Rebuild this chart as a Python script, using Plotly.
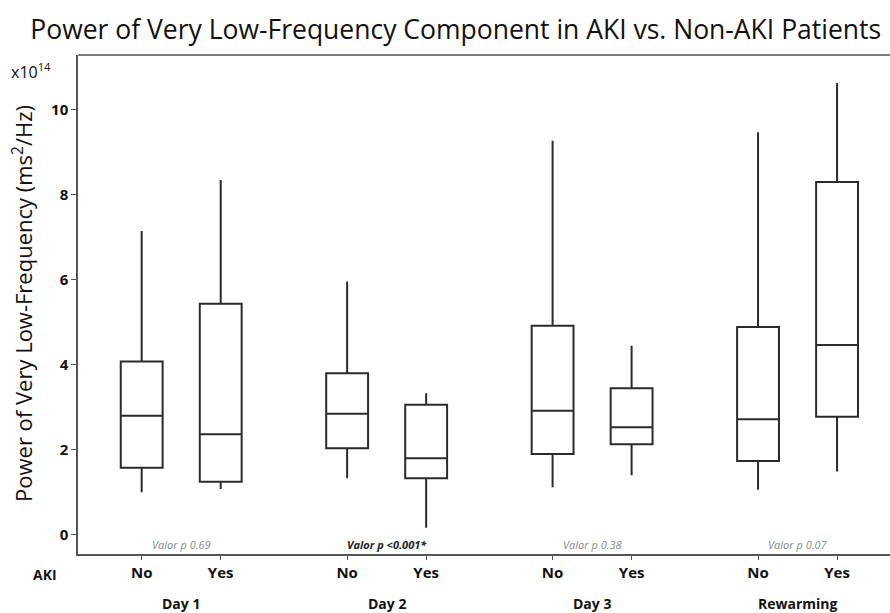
import plotly.graph_objects as go

groups = ["Day 1", "Day 2", "Day 3", "Rewarming"]
aki = ["No", "Yes"]
positions = [0, 1, 2.6, 3.6, 5.2, 6.2, 7.8, 8.8]
lower = [1.00, 1.08, 1.33, 0.17, 1.12, 1.40, 1.06, 1.49]
q1 = [1.58, 1.25, 2.04, 1.33, 1.90, 2.13, 1.74, 2.78]
median = [2.80, 2.37, 2.85, 1.80, 2.92, 2.53, 2.72, 4.47]
q3 = [4.08, 5.44, 3.80, 3.06, 4.92, 3.45, 4.89, 8.30]
upper = [7.15, 8.35, 5.96, 3.33, 9.27, 4.45, 9.47, 10.63]
pvalues = ["Valor p 0.69", "Valor p <0.001*", "Valor p 0.38", "Valor p 0.07"]
yticks = [0, 2, 4, 6, 8, 10]

FONT = "Open Sans"
dark = "#2b2b2b"

fig = go.Figure()
fig.add_trace(go.Box(
    x=positions, q1=q1, median=median, q3=q3,
    lowerfence=lower, upperfence=upper,
    width=0.53, whiskerwidth=0, boxpoints=False,
    fillcolor="white", line=dict(color=dark, width=2),
    showlegend=False, hoverinfo="skip",
))

tickvals = positions
ticktext = ["<b>" + a + "</b>" for a in aki] * len(groups)
yticktext = ["<b>" + str(v) + "</b>" for v in yticks]

annotations = []
for i, g in enumerate(groups):
    cx = (positions[2 * i] + positions[2 * i + 1]) / 2
    annotations.append(dict(
        x=cx, y=-0.100, xref="x", yref="paper", text="<b>" + g + "</b>",
        showarrow=False, font=dict(family=FONT, size=14, color="#111"),
        xanchor="center", yanchor="middle"))
    pv = pvalues[i]
    if "<" in pv:
        txt = "<b><i>" + pv.replace("<", "&lt;") + "</i></b>"
        col = "#222"
    else:
        txt = "<i>" + pv + "</i>"
        col = "#8a8a8a"
    annotations.append(dict(
        x=cx, y=0.02, xref="x", yref="paper", text=txt,
        showarrow=False, font=dict(family=FONT, size=11, color=col),
        xanchor="center", yanchor="middle"))

annotations.append(dict(
    x=-0.0406, y=-0.042, xref="paper", yref="paper", text="<b>AKI</b>",
    showarrow=False, font=dict(family=FONT, size=14, color="#111"),
    xanchor="center", yanchor="middle"))
annotations.append(dict(
    x=-0.085, y=0.968, xref="paper", yref="paper", text="x10<sup>14</sup>",
    showarrow=False, font=dict(family=FONT, size=16, color="#111"),
    xanchor="left", yanchor="middle"))
annotations.append(dict(
    x=-0.069, y=0.503, xref="paper", yref="paper",
    text="Power of Very Low-Frequency (ms<sup>2</sup>/Hz)", textangle=-90,
    showarrow=False, font=dict(family=FONT, size=22, color="#111"),
    xanchor="center", yanchor="middle"))

fig.update_layout(
    width=890, height=613,
    margin=dict(l=78, r=0, t=55, b=59),
    paper_bgcolor="white", plot_bgcolor="white",
    title=dict(text="Power of Very Low-Frequency Component in AKI vs. Non-AKI Patients",
               x=0.034, xanchor="left", y=0.951, yanchor="middle",
               font=dict(family=FONT, size=26.5, color="#111")),
    xaxis=dict(range=[-0.806, 9.47], tickvals=tickvals, ticktext=ticktext,
               showgrid=False, zeroline=False, showline=True, linecolor="#555",
               linewidth=1.5, mirror=False, ticks="outside", ticklen=4,
               tickcolor="#555", tickfont=dict(family=FONT, size=15, color="#111")),
    yaxis=dict(range=[-0.45, 11.29], tickvals=yticks, ticktext=yticktext,
               showgrid=False, zeroline=False, showline=True, linecolor="#555",
               linewidth=1.5, ticks="outside", ticklen=5, tickcolor="#555",
               tickfont=dict(family=FONT, size=15, color="#111")),
    shapes=[dict(type="line", xref="paper", yref="paper", x0=0, x1=1, y0=1, y1=1,
                 line=dict(color="#555", width=1.5))],
    annotations=annotations,
)

fig.write_html("out.html", config={"displayModeBar": False},
               post_script="document.body.style.margin='0';document.body.style.overflow='hidden';")
